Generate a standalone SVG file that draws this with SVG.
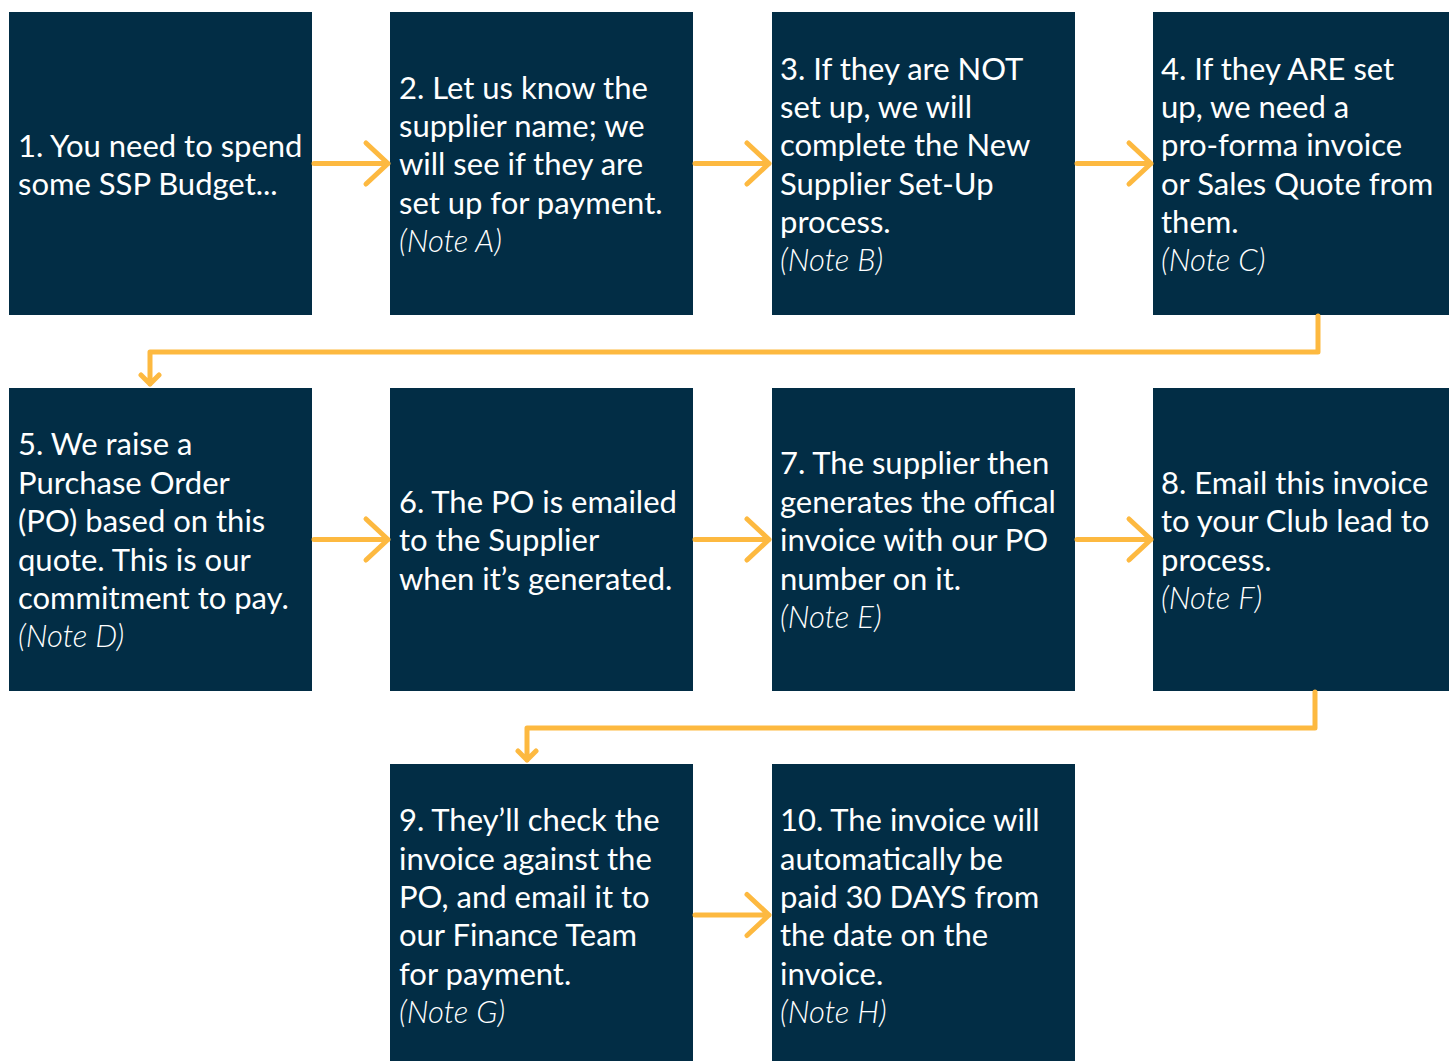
<svg xmlns="http://www.w3.org/2000/svg" width="1449" height="1061" viewBox="0 0 1449 1061">
<style>
.box{fill:#022d45}
.t{font-family:Lato,"Open Sans","Liberation Sans",sans-serif;font-size:31px;fill:#ffffff}
.n{font-style:italic;font-weight:300}
.c{fill:none;stroke:#fdb940;stroke-width:5;stroke-linecap:round;stroke-linejoin:round}
</style>
<rect width="1449" height="1061" fill="#ffffff"/>
<g id="node1"><rect class="box" x="9" y="12" width="303" height="303"/>
<text class="t" x="18"><tspan x="18" y="157">1. You need to spend</tspan><tspan x="18" y="195">some SSP Budget...</tspan></text></g>
<g id="node2"><rect class="box" x="390" y="12" width="303" height="303"/>
<text class="t"><tspan x="399" y="99">2. Let us know the</tspan><tspan x="399" y="137">supplier name; we</tspan><tspan x="399" y="175">will see if they are</tspan><tspan x="399" y="214">set up for payment.</tspan><tspan class="n" x="399" y="252">(Note A)</tspan></text></g>
<g id="node3"><rect class="box" x="772" y="12" width="303" height="303"/>
<text class="t"><tspan x="780" y="80">3. If they are NOT</tspan><tspan x="780" y="118">set up, we will</tspan><tspan x="780" y="156">complete the New</tspan><tspan x="780" y="195">Supplier Set-Up</tspan><tspan x="780" y="233">process.</tspan><tspan class="n" x="780" y="271">(Note B)</tspan></text></g>
<g id="node4"><rect class="box" x="1153" y="12" width="296" height="303"/>
<text class="t"><tspan x="1161" y="80">4. If they ARE set</tspan><tspan x="1161" y="118">up, we need a</tspan><tspan x="1161" y="156">pro-forma invoice</tspan><tspan x="1161" y="195">or Sales Quote from</tspan><tspan x="1161" y="233">them.</tspan><tspan class="n" x="1161" y="271">(Note C)</tspan></text></g>
<g id="node5"><rect class="box" x="9" y="388" width="303" height="303"/>
<text class="t"><tspan x="18" y="455">5. We raise a</tspan><tspan x="18" y="494">Purchase Order</tspan><tspan x="18" y="532">(PO) based on this</tspan><tspan x="18" y="571">quote. This is our</tspan><tspan x="18" y="609">commitment to pay.</tspan><tspan class="n" x="18" y="647">(Note D)</tspan></text></g>
<g id="node6"><rect class="box" x="390" y="388" width="303" height="303"/>
<text class="t"><tspan x="399" y="513">6. The PO is emailed</tspan><tspan x="399" y="551">to the Supplier</tspan><tspan x="399" y="590">when it’s generated.</tspan></text></g>
<g id="node7"><rect class="box" x="772" y="388" width="303" height="303"/>
<text class="t"><tspan x="780" y="474">7. The supplier then</tspan><tspan x="780" y="513">generates the offical</tspan><tspan x="780" y="551">invoice with our PO</tspan><tspan x="780" y="590">number on it.</tspan><tspan class="n" x="780" y="628">(Note E)</tspan></text></g>
<g id="node8"><rect class="box" x="1153" y="388" width="296" height="303"/>
<text class="t"><tspan x="1161" y="494">8. Email this invoice</tspan><tspan x="1161" y="532">to your Club lead to</tspan><tspan x="1161" y="571">process.</tspan><tspan class="n" x="1161" y="609">(Note F)</tspan></text></g>
<g id="node9"><rect class="box" x="390" y="764" width="303" height="297"/>
<text class="t"><tspan x="399" y="831">9. They’ll check the</tspan><tspan x="399" y="870">invoice against the</tspan><tspan x="399" y="908">PO, and email it to</tspan><tspan x="399" y="946">our Finance Team</tspan><tspan x="399" y="985">for payment.</tspan><tspan class="n" x="399" y="1023">(Note G)</tspan></text></g>
<g id="node10"><rect class="box" x="772" y="764" width="303" height="297"/>
<text class="t"><tspan x="780" y="831">10. The invoice will</tspan><tspan x="780" y="870">automatically be</tspan><tspan x="780" y="908">paid 30 DAYS from</tspan><tspan x="780" y="946">the date on the</tspan><tspan x="780" y="985">invoice.</tspan><tspan class="n" x="780" y="1023">(Note H)</tspan></text></g>
<g id="connectors">
<path class="c" d="M314 163.5H388M366 143L388 163.5L366 184"/>
<path class="c" d="M695 163.5H769M747 143L769 163.5L747 184"/>
<path class="c" d="M1077 163.5H1151M1129 143L1151 163.5L1129 184"/>
<path class="c" d="M1318 316V352H150V384M141 375L150 384L159 375" stroke-linecap="butt"/>
<path class="c" d="M314 539.5H388M366 519L388 539.5L366 560"/>
<path class="c" d="M695 539.5H769M747 519L769 539.5L747 560"/>
<path class="c" d="M1077 539.5H1151M1129 519L1151 539.5L1129 560"/>
<path class="c" d="M1315 692V728H527V760M518 751L527 760L536 751"/>
<path class="c" d="M695 915H769M747 894.5L769 915L747 935.5"/>
</g>
</svg>
